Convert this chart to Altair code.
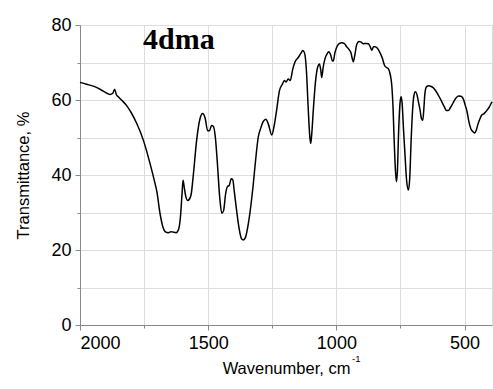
import altair as alt
import pandas as pd

wavenumber = [2000, 1975, 1948, 1920, 1895, 1883, 1872, 1865, 1858, 1850, 1835, 1818, 1800, 1779,
              1753, 1727, 1710, 1700, 1688, 1676, 1668, 1655, 1645, 1638, 1625, 1615, 1608, 1602,
              1598, 1594, 1588, 1580, 1573, 1566, 1558, 1545, 1532, 1522, 1512, 1502, 1495, 1487,
              1480, 1472, 1465, 1455, 1447, 1440, 1432, 1425, 1418, 1410, 1404, 1398, 1390, 1380,
              1370, 1363, 1355, 1346, 1337, 1325, 1315, 1305, 1295, 1285, 1275, 1265, 1252, 1243,
              1233, 1222, 1210, 1203, 1196, 1188, 1180, 1170, 1161, 1148, 1138, 1131, 1124, 1117,
              1110, 1104, 1100, 1096, 1090, 1082, 1072, 1066, 1061, 1057, 1052, 1044, 1036, 1030,
              1022, 1016, 1012, 1006, 998, 988, 979, 968, 960, 950, 943, 938, 934, 928, 921, 912,
              905, 895, 885, 875, 868, 862, 855, 849, 840, 829, 820, 812, 805, 797, 790, 784, 779,
              775, 771, 766, 762, 757, 752, 748, 744, 738, 732, 726, 719, 714, 708, 703, 698, 692,
              686, 680, 674, 668, 663, 659, 655, 649, 640, 630, 621, 610, 600, 590, 580, 570, 563,
              555, 545, 535, 524, 514, 505, 497, 490, 484, 476, 468, 460, 454, 448, 440, 433, 425,
              418, 410, 403, 397, 393]
transmittance = [64.7, 64.2, 63.7, 62.8, 61.8, 61.5, 61.8, 62.9, 61.4, 60.8, 59.8, 58.5, 56.6, 53.8,
                 49.3, 43.1, 38.5, 35.5, 29.8, 26.0, 24.9, 24.6, 24.9, 24.8, 24.6, 25.6, 29.0, 35.0,
                 38.6, 37.0, 34.5, 33.2, 33.6, 35.0, 40.0, 49.3, 55.0, 56.4, 55.2, 51.8, 51.8, 53.2,
                 53.0, 50.0, 44.0, 34.0, 29.8, 30.5, 35.0, 36.9, 37.2, 39.0, 38.7, 35.5, 31.0, 26.0,
                 23.0, 22.7, 23.3, 26.0, 30.0, 37.0, 44.0, 50.0, 52.5, 54.3, 54.9, 53.5, 50.7, 53.0,
                 57.3, 62.5, 64.3, 65.2, 64.8, 65.6, 65.2, 68.3, 70.2, 71.4, 72.5, 73.2, 72.5, 68.0,
                 58.0, 50.5, 48.4, 51.0, 57.3, 64.5, 69.0, 69.6, 68.0, 66.0, 68.5, 71.1, 72.3, 72.9,
                 72.0, 70.5, 70.4, 72.5, 74.2, 75.1, 75.3, 75.0, 74.2, 73.4, 72.6, 71.0, 70.2, 72.0,
                 74.7, 75.6, 75.5, 75.0, 75.1, 75.0, 74.2, 73.3, 74.2, 74.2, 73.8, 72.5, 71.0, 69.2,
                 68.7, 68.3, 66.8, 64.0, 58.0, 50.0, 43.0, 38.2, 41.0, 52.0, 59.0, 60.9, 59.5, 52.0,
                 45.0, 38.5, 36.0, 39.0, 50.0, 57.0, 61.0, 62.2, 61.5, 59.5, 57.5, 55.0, 54.6, 57.5,
                 61.5, 63.5, 63.8, 63.6, 63.2, 62.2, 61.0, 59.7, 58.3, 57.2, 57.2, 58.0, 59.2, 60.4,
                 61.1, 61.0, 60.3, 58.5, 56.8, 54.5, 52.4, 51.6, 51.2, 52.0, 53.5, 55.0, 56.0, 56.3,
                 56.8, 57.5, 58.2, 59.0, 59.5]

x_ticks = [2000, 1750, 1500, 1250, 1000, 750, 500]
y_ticks = [0, 10, 20, 30, 40, 50, 60, 70, 80]

df = pd.DataFrame({"wn": wavenumber, "T": transmittance, "i": list(range(len(wavenumber)))})

line = alt.Chart(df).mark_line(color="black", strokeWidth=1.5, interpolate="monotone").encode(
    x=alt.X("wn:Q",
            scale=alt.Scale(domain=[393, 2000], reverse=True, nice=False, zero=False),
            axis=alt.Axis(values=x_ticks, title="Wavenumber, cm",
                          labelExpr="datum.value % 500 === 0 ? datum.label : ''",
                          tickSize={"condition": {"test": "datum.value % 500 === 0", "value": 5}, "value": 3},
                          labelFontSize=18, titleFontSize=16.5, titleFontWeight="normal",
                          titlePadding=8, labelPadding=4, format="d")),
    y=alt.Y("T:Q",
            scale=alt.Scale(domain=[0, 80], nice=False),
            axis=alt.Axis(values=y_ticks, title="Transmittance, %",
                          labelExpr="datum.value % 20 === 0 ? datum.label : ''",
                          tickSize={"condition": {"test": "datum.value % 20 === 0", "value": 5}, "value": 3},
                          labelFontSize=18, titleFontSize=16.5, titleFontWeight="normal",
                          titlePadding=19, labelPadding=4)),
    order="i:Q",
)

label = alt.Chart(pd.DataFrame({"t": ["4dma"]})).mark_text(
    font="Liberation Serif", fontWeight="bold", fontSize=30, align="left", baseline="alphabetic",
    color="black"
).encode(text="t:N", x=alt.value(63), y=alt.value(23.5))

sup = alt.Chart(pd.DataFrame({"t": ["-1"]})).mark_text(
    font="Liberation Sans", fontSize=9.5, align="left", baseline="alphabetic", color="black"
).encode(text="t:N", x=alt.value(272), y=alt.value(337))

chart = alt.layer(line, label, sup).properties(
    width=412, height=300,
    autosize=alt.AutoSizeParams(type="none"),
    padding={"left": 80, "top": 25, "right": 1, "bottom": 64},
).configure_view(stroke=None).configure_axis(
    grid=False, domainColor="black", tickColor="black", labelColor="black", titleColor="black",
    labelFont="Liberation Sans", titleFont="Liberation Sans", domainWidth=1, tickWidth=1,
).configure(background="white")

chart.save("out.html", embed_options={"renderer": "svg", "actions": False})
